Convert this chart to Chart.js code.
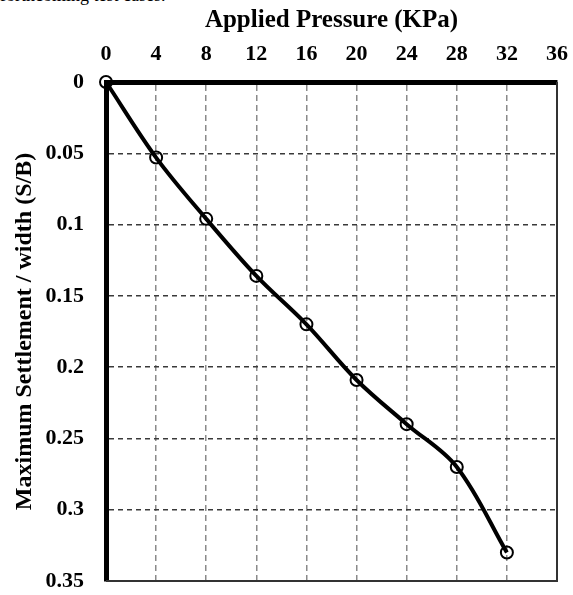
<!DOCTYPE html>
<html>
<head>
<meta charset="utf-8">
<script src="https://cdn.jsdelivr.net/npm/chart.js@4/dist/chart.umd.min.js"></script>
<style>
  body { margin: 0; background: #fff; overflow: hidden; }
  #wrap { position: relative; width: 573px; height: 595px; }
  #cut {
    position: absolute; left: 0; top: -17px;
    font: 18px "Liberation Serif", "Times New Roman", serif;
    line-height: 24px; white-space: nowrap;
  }
  canvas { position: absolute; left: 0; top: 0; }
</style>
</head>
<body>
<div id="wrap">
  <div id="cut">forthcoming test cases.</div>
  <canvas id="myChart" width="573" height="595"></canvas>
</div>
<script>
// values
const pressure = [0, 4, 8, 12, 16, 20, 24, 28, 32];
const settlement = [0, 0.053, 0.096, 0.136, 0.17, 0.209, 0.24, 0.27, 0.33];
const xTickLabels = ["0", "4", "8", "12", "16", "20", "24", "28", "32", "36"];
const yTickLabels = ["0", "0.05", "0.1", "0.15", "0.2", "0.25", "0.3", "0.35"];

const serif = "'Liberation Serif', 'Times New Roman', serif";

// thin right / bottom frame, the top and left ones are the axis borders
const frame = {
  id: "frame",
  afterDraw(chart) {
    const { ctx, chartArea } = chart;
    ctx.save();
    ctx.strokeStyle = "#333";
    ctx.lineWidth = 2;
    ctx.beginPath();
    ctx.moveTo(chartArea.right, chartArea.top);
    ctx.lineTo(chartArea.right, chartArea.bottom);
    ctx.lineTo(chartArea.left, chartArea.bottom);
    ctx.stroke();
    ctx.restore();
  },
};

const points = pressure.map((p, i) => ({ x: p, y: settlement[i] }));

new Chart(document.getElementById("myChart").getContext("2d"), {
  type: "line",
  data: {
    datasets: [
      {
        data: points,
        borderColor: "#000",
        borderWidth: 4,
        tension: 0.35,
        pointRadius: 6,
        pointBorderWidth: 2,
        pointBorderColor: "#000",
        pointBackgroundColor: "rgba(0,0,0,0)",
        clip: false,
      },
    ],
  },
  options: {
    responsive: false,
    animation: false,
    events: [],
    layout: { padding: { left: 0, top: 0, right: 16, bottom: 14 } },
    plugins: {
      legend: { display: false },
      tooltip: { enabled: false },
    },
    scales: {
      x: {
        type: "linear",
        position: "top",
        min: 0,
        max: 36,
        afterFit: (scale) => {
          scale.height = 82;
          scale.paddingLeft = 0;
          scale.paddingRight = 0;
        },
        ticks: {
          stepSize: 4,
          padding: 14,
          color: "#000",
          font: { family: serif, size: 22, weight: "bold" },
          callback: (value) => xTickLabels[Math.round(value / 4)],
        },
        grid: { color: "#8a8a8a", lineWidth: 1.5, drawTicks: false },
        border: { display: true, color: "#000", width: 5, dash: [6, 4] },
        title: {
          display: true,
          text: "Applied Pressure (KPa)",
          color: "#000",
          font: { family: serif, size: 25, weight: "bold" },
          padding: { top: 6, bottom: 0 },
        },
      },
      y: {
        type: "linear",
        position: "left",
        reverse: true,
        min: 0,
        max: 0.35,
        afterFit: (scale) => {
          scale.width = 106;
          scale.paddingTop = 0;
          scale.paddingBottom = 0;
        },
        ticks: {
          stepSize: 0.05,
          padding: 22,
          color: "#000",
          font: { family: serif, size: 22, weight: "bold" },
          callback: (value) => yTickLabels[Math.round(value / 0.05)],
        },
        grid: { color: "#3a3a3a", lineWidth: 1.5, drawTicks: false },
        border: { display: true, color: "#000", width: 5, dash: [5, 4] },
        title: {
          display: true,
          text: "Maximum Settlement / width (S/B)",
          color: "#000",
          font: { family: serif, size: 24, weight: "bold" },
          padding: { top: 10, bottom: 0 },
        },
      },
    },
  },
  plugins: [frame],
});
</script>
</body>
</html>
